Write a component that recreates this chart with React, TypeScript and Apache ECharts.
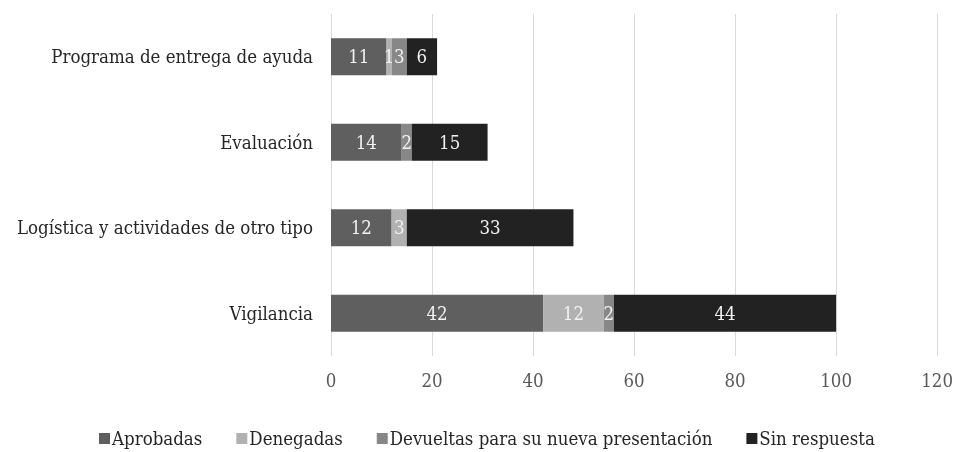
import React, { useEffect, useRef } from "react";
import * as echarts from "echarts";

const categories = ["Vigilancia", "Logística y actividades de otro tipo", "Evaluación", "Programa de entrega de ayuda"];
const aprobadas = [42, 12, 14, 11];
const denegadas = [12, 3, 0, 1];
const devueltas = [2, 0, 2, 3];
const sinRespuesta = [44, 33, 15, 6];
const seriesNames = ["Aprobadas", "Denegadas", "Devueltas para su nueva presentación", "Sin respuesta"];
const colors = ["#5f5f5f", "#b1b1b1", "#878787", "#222222"];

const FONT = "'DejaVu Serif Condensed', 'DejaVu Serif', serif";
const FS = 18.5;

export default function App() {
  const ref = useRef<HTMLDivElement>(null);
  useEffect(() => {
    if (!ref.current) return;
    const chart = echarts.init(ref.current, undefined, { renderer: "svg" });
    const data = [aprobadas, denegadas, devueltas, sinRespuesta];
    chart.setOption({
      animation: false,
      textStyle: { fontFamily: FONT },
      grid: { left: 331, right: 18, top: 14, bottom: 96, containLabel: false },
      legend: {
        bottom: -1,
        left: 94,
        width: 840,
        itemWidth: 11,
        itemHeight: 11,
        itemGap: 34,
        icon: "rect",
        textStyle: { fontFamily: FONT, fontSize: FS, color: "#262626", padding: [0, 0, 0, -3] },
        data: seriesNames,
      },
      xAxis: {
        type: "value",
        min: 0,
        max: 120,
        interval: 20,
        axisLine: { show: false },
        axisTick: { show: false },
        splitLine: { show: true, lineStyle: { color: "#d9d9d9", width: 1 } },
        axisLabel: { fontFamily: FONT, fontSize: FS, color: "#595959", margin: 15 },
      },
      yAxis: {
        type: "category",
        data: categories,
        axisLine: { show: false },
        axisTick: { show: false },
        axisLabel: { fontFamily: FONT, fontSize: FS, color: "#262626", margin: 18 },
      },
      series: seriesNames.map((name, i) => ({
        name,
        type: "bar",
        stack: "total",
        barWidth: 37,
        data: data[i],
        itemStyle: { color: colors[i] },
        label: {
          show: true,
          position: "inside",
          fontFamily: FONT,
          fontSize: FS,
          color: "#f2f2f2",
          formatter: (p: any) => (p.value ? String(p.value) : ""),
        },
      })),
    });
    return () => chart.dispose();
  }, []);
  return <div ref={ref} style={{ position: "fixed", left: 0, top: 0, width: 956, height: 452 }} />;
}
